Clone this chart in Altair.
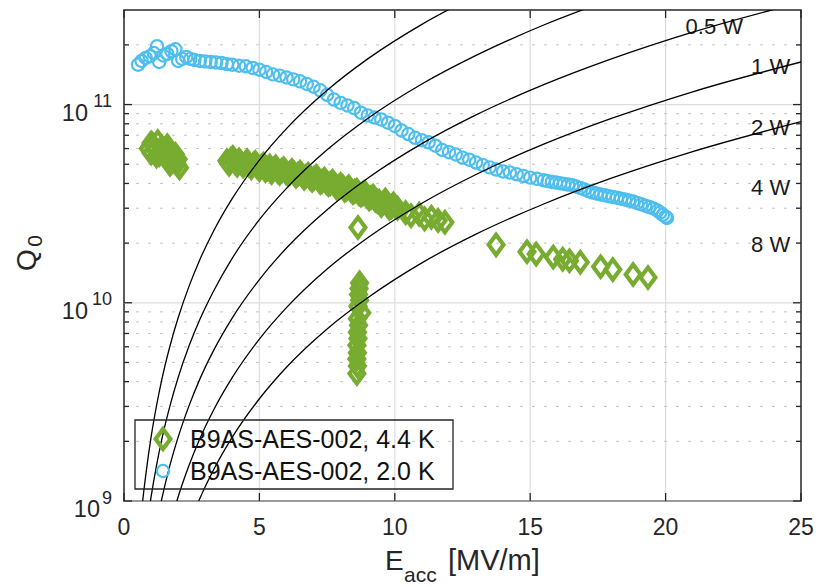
import altair as alt
import pandas as pd

# ---------------- data ----------------
# B9AS-AES-002, 2.0 K  (blue open circles)
E_20K = [0.52, 0.65, 0.80, 0.95, 1.10, 1.22, 1.30, 1.45, 1.60, 1.75, 1.90, 2.00, 2.15, 2.30,
         2.45, 2.60, 2.80, 3.00, 3.20, 3.40, 3.60, 3.80, 4.00, 4.25, 4.50, 4.75, 5.00, 5.25,
         5.50, 5.75, 6.00, 6.25, 6.50, 6.75, 7.00, 7.25, 7.50, 7.75, 8.00, 8.25, 8.50, 8.75,
         9.00, 9.25, 9.50, 9.75, 10.00, 10.25, 10.50, 10.75, 11.00, 11.25, 11.50, 11.75,
         12.00, 12.25, 12.50, 12.75, 13.00, 13.25, 13.50, 13.75, 14.00, 14.25, 14.50, 14.75,
         15.00, 15.25, 15.50, 15.65, 15.80, 15.95, 16.10, 16.25, 16.40, 16.55, 16.70, 16.85,
         17.00, 17.15, 17.30, 17.45, 17.60, 17.75, 17.90, 18.05, 18.20, 18.35, 18.50, 18.65,
         18.80, 18.95, 19.10, 19.25, 19.40, 19.55, 19.70, 19.80, 19.90, 20.00, 20.05]
Q_20K = [1.59e11, 1.66e11, 1.72e11, 1.75e11, 1.82e11, 1.97e11, 1.64e11, 1.77e11, 1.80e11,
         1.86e11, 1.90e11, 1.66e11, 1.70e11, 1.74e11, 1.70e11, 1.68e11, 1.66e11, 1.65e11,
         1.64e11, 1.63e11, 1.62e11, 1.60e11, 1.59e11, 1.57e11, 1.56e11, 1.53e11, 1.50e11,
         1.46e11, 1.42e11, 1.40e11, 1.37e11, 1.34e11, 1.31e11, 1.27e11, 1.23e11, 1.18e11,
         1.12e11, 1.06e11, 1.02e11, 9.9e10, 9.6e10, 9.1e10, 8.8e10, 8.6e10, 8.4e10, 8.1e10,
         7.8e10, 7.4e10, 7.1e10, 6.8e10, 6.6e10, 6.45e10, 6.2e10, 5.9e10, 5.75e10, 5.6e10,
         5.4e10, 5.27e10, 5.1e10, 4.95e10, 4.82e10, 4.7e10, 4.6e10, 4.54e10, 4.45e10, 4.36e10,
         4.28e10, 4.22e10, 4.15e10, 4.11e10, 4.07e10, 4.04e10, 4.01e10, 3.98e10, 3.95e10,
         3.92e10, 3.86e10, 3.80e10, 3.73e10, 3.66e10, 3.60e10, 3.56e10, 3.52e10, 3.49e10,
         3.45e10, 3.42e10, 3.39e10, 3.35e10, 3.32e10, 3.28e10, 3.24e10, 3.19e10, 3.14e10,
         3.09e10, 3.04e10, 2.99e10, 2.92e10, 2.85e10, 2.78e10, 2.72e10, 2.68e10]

# B9AS-AES-002, 4.4 K  (green open diamonds)
E_44K = [0.90, 1.00, 1.05, 1.15, 1.25, 1.30, 1.40, 1.50, 1.55, 1.65, 1.75, 1.85, 1.95, 2.05,
         1.00, 1.20, 1.45, 1.60, 1.70, 1.90, 2.00,
         3.80, 3.95, 4.10, 4.25, 4.40, 4.55, 4.70, 4.85, 5.00, 5.15, 5.30, 5.45, 5.60, 5.75,
         5.90, 6.05, 6.20, 6.35, 6.50, 6.65, 6.80, 6.95, 7.10, 7.25, 7.40, 7.55, 7.70, 7.85,
         8.00, 8.15, 8.30, 8.45, 8.60, 8.75, 8.90, 9.05, 9.20, 9.35, 9.50, 9.65, 9.80, 9.95,
         10.10, 10.40, 10.60, 10.90, 11.10, 11.35, 11.60, 11.85,
         3.88, 4.02, 4.18, 4.32, 4.48, 4.62, 4.78, 4.92, 5.08, 5.22, 5.38, 5.52, 5.68, 5.82,
         5.98, 6.12, 6.28, 6.42, 6.58, 6.72, 6.88, 7.02, 7.18, 7.32, 7.48, 7.62, 7.78, 7.92,
         8.08, 8.22, 8.38, 8.52, 8.68, 8.82, 8.98, 9.12, 9.28, 9.42, 9.58, 9.72, 9.88, 10.02,
         8.64,
         8.70, 8.68, 8.66, 8.70, 8.64, 8.78, 8.62, 8.66, 8.62, 8.64, 8.60, 8.62, 8.60, 8.62, 8.60,
         13.74, 14.88, 15.22, 15.85, 16.20, 16.45, 16.85, 17.60, 18.05, 18.80, 19.35]
Q_44K = [6.0e10, 5.7e10, 6.3e10, 5.9e10, 6.5e10, 5.6e10, 6.1e10, 5.5e10, 6.0e10, 5.3e10,
         5.7e10, 5.2e10, 5.0e10, 4.8e10,
         6.4e10, 5.5e10, 5.8e10, 6.2e10, 5.0e10, 5.6e10, 5.3e10,
         5.2e10, 5.3e10, 5.1e10, 5.25e10, 4.9e10, 5.2e10, 4.8e10, 5.1e10, 4.7e10, 5.0e10,
         4.75e10, 4.55e10, 4.85e10, 4.5e10, 4.75e10, 4.45e10, 4.65e10, 4.35e10, 4.55e10,
         4.25e10, 4.45e10, 4.15e10, 4.35e10, 4.05e10, 4.2e10, 3.95e10, 4.1e10, 3.8e10, 3.95e10,
         3.7e10, 3.85e10, 3.6e10, 3.7e10, 3.5e10, 3.6e10, 3.35e10, 3.45e10, 3.25e10, 3.1e10,
         3.3e10, 3.0e10, 3.15e10, 3.0e10, 2.85e10, 2.75e10, 2.8e10, 2.65e10, 2.7e10, 2.6e10,
         2.55e10,
         5.0e10, 5.4e10, 4.95e10, 5.1e10, 5.05e10, 4.95e10, 5.0e10, 4.85e10, 4.9e10, 4.65e10,
         4.9e10, 4.7e10, 4.6e10, 4.65e10, 4.55e10, 4.5e10, 4.5e10, 4.45e10, 4.4e10, 4.35e10,
         4.25e10, 4.25e10, 4.2e10, 4.1e10, 4.05e10, 4.0e10, 3.95e10, 3.85e10, 3.85e10, 3.75e10,
         3.7e10, 3.65e10, 3.55e10, 3.55e10, 3.45e10, 3.4e10, 3.3e10, 3.25e10, 3.2e10, 3.15e10,
         3.05e10, 3.05e10,
         2.4e10,
         1.26e10, 1.18e10, 1.10e10, 1.03e10, 9.6e9, 8.9e9, 8.3e9, 7.7e9, 7.1e9, 6.6e9, 6.1e9,
         5.6e9, 5.2e9, 4.8e9, 4.4e9,
         1.96e10, 1.81e10, 1.76e10, 1.70e10, 1.66e10, 1.63e10, 1.60e10, 1.52e10, 1.47e10,
         1.39e10, 1.34e10]

# constant-power lines
P_LEVELS = [0.5, 1, 2, 4, 8]
CURVE_E = [
    [0.6, 0.7, 0.8, 0.9, 1.0, 1.2, 1.4, 1.7, 2.0, 2.4, 2.8, 3.3, 4, 5, 6, 7.5, 9, 11, 13],
    [0.9, 1.0, 1.2, 1.4, 1.7, 2.0, 2.4, 2.8, 3.3, 4, 5, 6, 7.5, 9, 11, 13, 15.5, 18],
    [1.2, 1.4, 1.7, 2.0, 2.4, 2.8, 3.3, 4, 5, 6, 7.5, 9, 11, 13, 15.5, 18, 21, 25],
    [1.7, 2.0, 2.4, 2.8, 3.3, 4, 5, 6, 7.5, 9, 11, 13, 15.5, 18, 21, 25],
    [2.4, 2.8, 3.3, 4, 5, 6, 7.5, 9, 11, 13, 15.5, 18, 21, 25],
]
CURVE_Q = [
    [7.56e8, 1.03e9, 1.34e9, 1.70e9, 2.1e9, 3.02e9, 4.12e9, 6.07e9, 8.4e9, 1.21e10, 1.65e10,
     2.29e10, 3.36e10, 5.25e10, 7.56e10, 1.18e11, 1.70e11, 2.54e11, 3.55e11],
    [8.51e8, 1.05e9, 1.51e9, 2.06e9, 3.03e9, 4.2e9, 6.05e9, 8.23e9, 1.14e10, 1.68e10, 2.63e10,
     3.78e10, 5.91e10, 8.51e10, 1.27e11, 1.77e11, 2.52e11, 3.40e11],
    [7.56e8, 1.03e9, 1.52e9, 2.1e9, 3.02e9, 4.12e9, 5.72e9, 8.4e9, 1.31e10, 1.89e10, 2.95e10,
     4.25e10, 6.35e10, 8.87e10, 1.26e11, 1.70e11, 2.32e11, 3.28e11],
    [7.59e8, 1.05e9, 1.51e9, 2.06e9, 2.86e9, 4.2e9, 6.56e9, 9.45e9, 1.48e10, 2.13e10, 3.18e10,
     4.44e10, 6.31e10, 8.51e10, 1.16e11, 1.64e11],
    [7.56e8, 1.03e9, 1.43e9, 2.1e9, 3.28e9, 4.73e9, 7.38e9, 1.06e10, 1.59e10, 2.22e10,
     3.15e10, 4.25e10, 5.79e10, 8.2e10],
]

# power labels at the right side
POWER_TEXT = ["0.5 W", "1 W", "2 W", "4 W", "8 W"]
POWER_E = [22.86, 24.6, 24.6, 24.6, 24.6]
POWER_Q = [2.26e11, 1.42e11, 7.05e10, 3.51e10, 1.81e10]

X_TICKS = [0, 5, 10, 15, 20, 25]
X_TICK_LABELS = ["0", "5", "10", "15", "20", "25"]
X_GRID = [5, 10, 15, 20]
Y_MAJOR = [1e9, 1e10, 1e11]
Y_SUP = ["9", "10", "11"]
Y_MINOR = [2e9, 3e9, 4e9, 5e9, 6e9, 7e9, 8e9, 9e9,
           2e10, 3e10, 4e10, 5e10, 6e10, 7e10, 8e10, 9e10, 2e11]

LEGEND_LABELS = ["B9AS-AES-002, 4.4 K", "B9AS-AES-002, 2.0 K"]

# ---------------- styling ----------------
BLUE = "#4DBEEE"
GREEN = "#77AC30"
INK = "#262626"
GRID = "#dcdcdc"
FONT = "Liberation Sans"
W, H = 677, 491
DIAMOND = "M0,-1L0.74,0L0,1L-0.74,0Z"
D_SIZE = 400
D_STROKE = 4.2
C_SIZE = 150
C_STROKE = 2.2

xs = alt.Scale(domain=[0, 25], nice=False, zero=False)
ys = alt.Scale(type="log", domain=[1e9, 3e11], nice=False)


def X(f):
    return alt.X(f, type="quantitative", scale=xs, axis=None)


def Y(f):
    return alt.Y(f, type="quantitative", scale=ys, axis=None)


df20 = pd.DataFrame({"E": E_20K, "Q": Q_20K})
df44 = pd.DataFrame({"E": E_44K, "Q": Q_44K})
curves = pd.concat(
    [pd.DataFrame({"E": e, "Q": q, "P": p}) for e, q, p in zip(CURVE_E, CURVE_Q, P_LEVELS)],
    ignore_index=True,
)
plabels = pd.DataFrame({"E": POWER_E, "Q": POWER_Q, "t": POWER_TEXT})
minor_df = pd.DataFrame({"Q": Y_MINOR})
major_df = pd.DataFrame({"Q": Y_MAJOR, "sup": Y_SUP, "base": ["10"] * 3})
xt_df = pd.DataFrame({"E": X_TICKS, "lab": X_TICK_LABELS})
xg_df = pd.DataFrame({"E": X_GRID})

# grids
x_grid = alt.Chart(xg_df).mark_rule(color=GRID, strokeWidth=1.2).encode(
    x=X("E"), y=alt.value(0), y2=alt.value(H))
y_grid = alt.Chart(major_df).mark_rule(color=GRID, strokeWidth=1.2).encode(
    y=Y("Q"), x=alt.value(0), x2=alt.value(W))
minor_grid = alt.Chart(minor_df).mark_rule(color="#c4c4c4", strokeWidth=1,
                                           strokeDash=[3, 9]).encode(
    x=alt.value(0), x2=alt.value(W), y=Y("Q"))

power_text = alt.Chart(plabels).mark_text(align="right", baseline="alphabetic",
                                          fontSize=22, font=FONT, color="#1a1a1a").encode(
    x=X("E"), y=Y("Q"), text="t:N")

green = alt.Chart(df44).mark_point(shape=DIAMOND, size=D_SIZE, filled=False, color=GREEN,
                                   strokeWidth=D_STROKE, opacity=1).encode(x=X("E"), y=Y("Q"))
blue = alt.Chart(df20).mark_point(shape="circle", size=C_SIZE, filled=False, color=BLUE,
                                  strokeWidth=C_STROKE, opacity=1).encode(x=X("E"), y=Y("Q"))

lines = alt.Chart(curves).mark_line(color="black", strokeWidth=1.3, clip=True,
                                    interpolate="monotone").encode(
    x=X("E"), y=Y("Q"), detail="P:N")

# inward ticks
tk = dict(color=INK, strokeWidth=1.3)
ticks_layers = [
    alt.Chart(xt_df).mark_rule(**tk).encode(x=X("E"), y=alt.value(H), y2=alt.value(H - 8)),
    alt.Chart(xt_df).mark_rule(**tk).encode(x=X("E"), y=alt.value(0), y2=alt.value(8)),
    alt.Chart(major_df).mark_rule(**tk).encode(y=Y("Q"), x=alt.value(0), x2=alt.value(8)),
    alt.Chart(major_df).mark_rule(**tk).encode(y=Y("Q"), x=alt.value(W), x2=alt.value(W - 8)),
    alt.Chart(minor_df).mark_rule(**tk).encode(y=Y("Q"), x=alt.value(0), x2=alt.value(5)),
    alt.Chart(minor_df).mark_rule(**tk).encode(y=Y("Q"), x=alt.value(W), x2=alt.value(W - 5)),
]

# x tick labels
x_labels = alt.Chart(xt_df).mark_text(align="center", baseline="alphabetic", fontSize=23,
                                      font=FONT, color=INK).encode(
    x=X("E"), y=alt.value(H + 34), text="lab:N")

# y tick labels 10^n
ylab_base2 = alt.Chart(major_df).transform_filter("datum.Q > 2e9").mark_text(
    align="right", baseline="alphabetic", fontSize=23.5, font=FONT, color=INK, dy=16
).encode(x=alt.value(-36), y=Y("Q"), text="base:N")
ylab_base1 = alt.Chart(major_df).transform_filter("datum.Q < 2e9").mark_text(
    align="right", baseline="alphabetic", fontSize=23.5, font=FONT, color=INK, dy=16
).encode(x=alt.value(-24), y=Y("Q"), text="base:N")
ylab_sup = alt.Chart(major_df).mark_text(
    align="right", baseline="alphabetic", fontSize=18, font=FONT, color=INK, dy=2.5
).encode(x=alt.value(-12), y=Y("Q"), text="sup:N")

# axis titles
one = pd.DataFrame({"a": [0]})


def txt(t, x, y, size, angle=0, align="left", baseline="alphabetic"):
    kw = dict(align=align, baseline=baseline, fontSize=size, font=FONT, color=INK, text=t)
    if angle:
        kw["angle"] = angle
    return alt.Chart(one).mark_text(**kw).encode(x=alt.value(x), y=alt.value(y))


titles = [
    txt("E", 261, 560, 28),
    txt("acc", 280, 572, 21),
    txt("[MV/m]", 324, 560, 29),
    txt("Q", -88, 250, 28, angle=270, align="center"),
    txt("0", -82, 231, 21, angle=270, align="center"),
]

# legend (transparent box, as in the reference)
leg_box = alt.Chart(one).mark_rect(fill=None, fillOpacity=0, stroke=INK, strokeWidth=1.3).encode(
    x=alt.value(11), x2=alt.value(329), y=alt.value(410), y2=alt.value(479))
leg_df = pd.DataFrame({"label": LEGEND_LABELS})
leg_sym1 = alt.Chart(one).mark_point(shape=DIAMOND, size=D_SIZE, filled=False, color=GREEN,
                                     strokeWidth=D_STROKE, opacity=1).encode(
    x=alt.value(39), y=alt.value(429))
leg_sym2 = alt.Chart(one).mark_point(shape="circle", size=C_SIZE, filled=False, color=BLUE,
                                     strokeWidth=C_STROKE, opacity=1).encode(
    x=alt.value(39), y=alt.value(461))
leg_t1 = alt.Chart(leg_df).transform_filter(alt.datum.label == LEGEND_LABELS[0]).mark_text(
    align="left", baseline="alphabetic", fontSize=25, font=FONT, color="#111111"
).encode(x=alt.value(66), y=alt.value(438), text="label:N")
leg_t2 = alt.Chart(leg_df).transform_filter(alt.datum.label == LEGEND_LABELS[1]).mark_text(
    align="left", baseline="alphabetic", fontSize=25, font=FONT, color="#111111"
).encode(x=alt.value(66), y=alt.value(470), text="label:N")

chart = alt.layer(
    x_grid, y_grid, minor_grid, power_text, green, blue, lines,
    *ticks_layers, x_labels, ylab_base2, ylab_base1, ylab_sup, *titles,
    leg_box, leg_sym1, leg_sym2, leg_t1, leg_t2,
).properties(
    width=W, height=H, autosize="none",
    padding={"left": 124, "top": 10, "right": 19, "bottom": 86},
).configure_view(stroke=INK, strokeWidth=1.5)

chart.save("out.html", embed_options={"renderer": "svg", "actions": False})
